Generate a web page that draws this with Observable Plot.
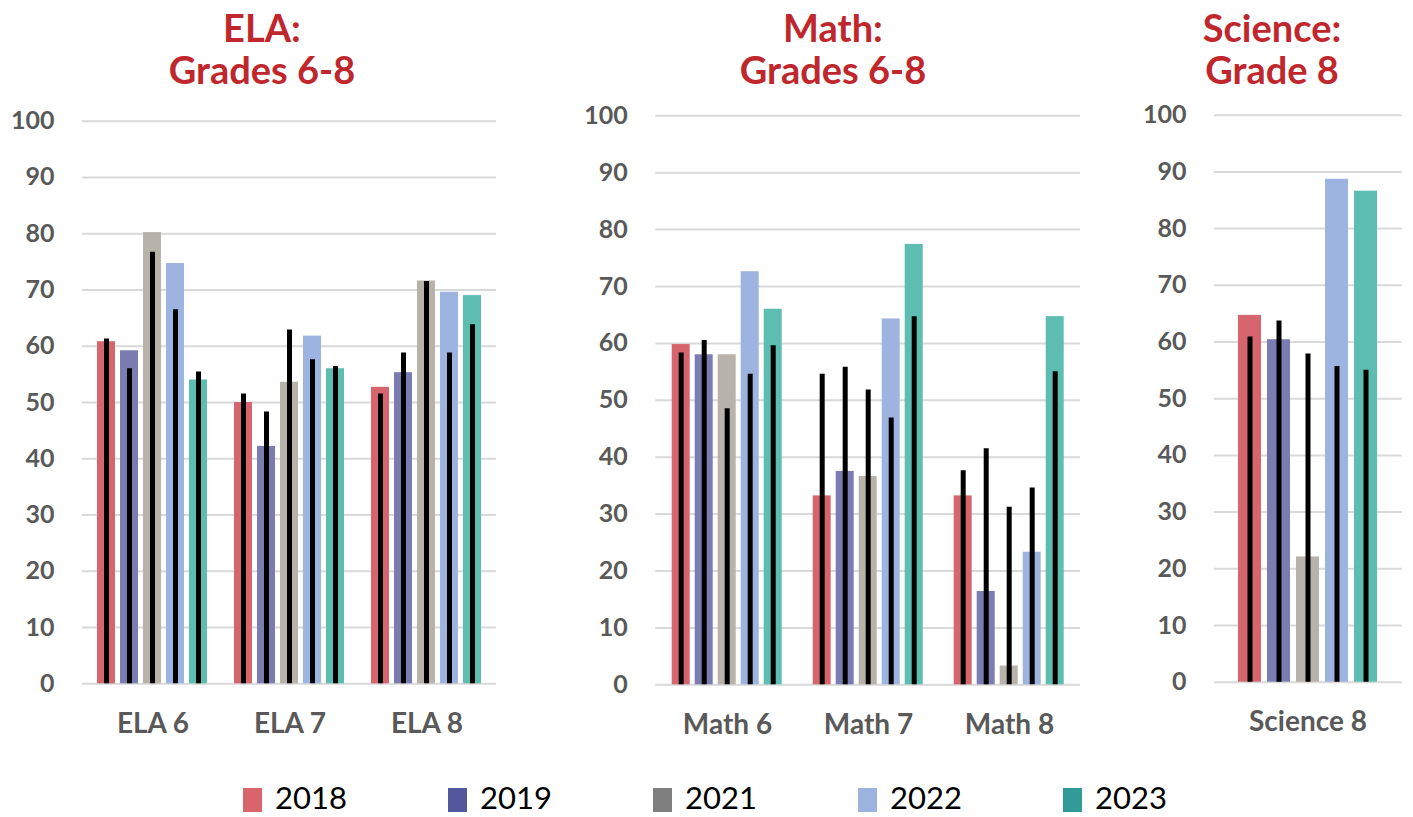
<!DOCTYPE html>
<html><head><meta charset="utf-8">
<script src="https://cdn.jsdelivr.net/npm/d3@7"></script>
<script src="https://cdn.jsdelivr.net/npm/@observablehq/plot@0.6"></script>
<style>
body{margin:0;background:#fff;}
#root{position:relative;width:1413px;height:817px;overflow:hidden;font-family:Lato,sans-serif;}
.title{position:absolute;width:320px;text-align:center;color:#c0272d;font-weight:bold;font-size:38px;line-height:42px;}
.layer{position:absolute;left:0;top:0;}
.panel{position:absolute;}
.legend{position:absolute;left:243px;top:782px;display:flex;}
.item{width:205px;display:flex;align-items:center;font-size:31px;color:#000;line-height:30px;height:30px;}
.sw{width:19px;height:24px;margin-right:13px;flex:none;position:relative;top:3px;}
</style></head><body><div id="root"></div>
<script>
// ---- data ----
const years = ["2018", "2019", "2021", "2022", "2023"];
const elaTests = ["ELA 6", "ELA 7", "ELA 8"];
const mathTests = ["Math 6", "Math 7", "Math 8"];
const sciTests = ["Science 8"];
// school values per test, in year order
const ela6School = [60.8, 59.2, 80.2, 74.7, 54.0];
const ela7School = [50.0, 42.2, 53.6, 61.8, 56.0];
const ela8School = [52.7, 55.3, 71.6, 69.6, 69.0];
const math6School = [59.8, 58.0, 58.0, 72.6, 66.0];
const math7School = [33.2, 37.5, 36.6, 64.3, 77.4];
const math8School = [33.2, 16.4, 3.3, 23.3, 64.7];
const sci8School = [64.7, 60.4, 22.1, 88.7, 86.6];
// comparison values (black bars), in year order
const ela6State = [61.3, 56.0, 76.7, 66.5, 55.4];
const ela7State = [51.5, 48.3, 62.9, 57.6, 56.4];
const ela8State = [51.5, 58.8, 71.5, 58.8, 63.8];
const math6State = [58.3, 60.5, 48.5, 54.6, 59.6];
const math7State = [54.6, 55.8, 51.8, 46.9, 64.7];
const math8State = [37.6, 41.5, 31.2, 34.6, 55.0];
const sci8State = [60.9, 63.7, 57.9, 55.7, 55.0];
const yTicks = [0, 10, 20, 30, 40, 50, 60, 70, 80, 90, 100];

// ---- styles ----
const barColors = ["#d6656d", "#7a7cb2", "#b8b3aa", "#9db3e0", "#5dbdb0"];
const legendColors = ["#d9646c", "#53589e", "#7f7f7f", "#9db3df", "#2f9a96"];

function rowsFor(tests, schools, states) {
  const rows = [];
  tests.forEach((t, i) => years.forEach((y, j) => rows.push({test: t, year: y, school: schools[i][j], state: states[i][j]})));
  return rows;
}

const panels = [
  {title: ["ELA:", "Grades 6-8"], cx: 262, rows: rowsFor(elaTests, [ela6School, ela7School, ela8School], [ela6State, ela7State, ela8State]), tests: elaTests,
   left: 0, width: 510, ml: 82, mr: 14, mt: 20.7, mb: 76.7, pin: 0.19, pout: 0.1},
  {title: ["Math:", "Grades 6-8"], cx: 833, rows: rowsFor(mathTests, [math6School, math7School, math8School], [math6State, math7State, math8State]), tests: mathTests,
   left: 560, width: 540, ml: 95.3, mr: 20, mt: 15.3, mb: 75.7, pin: 0.206, pout: 0.103},
  {title: ["Science:", "Grade 8"], cx: 1272, rows: rowsFor(sciTests, [sci8School], [sci8State]), tests: sciTests,
   left: 1130, width: 283, ml: 84, mr: 11.3, mt: 14.7, mb: 78.3, pin: 0.2, pout: 0.133}
];
const top0 = 100, H = 660;
const root = document.getElementById("root");

panels.forEach(p => {
  const t = document.createElement("div");
  t.className = "title";
  t.style.left = (p.cx - 160) + "px";
  t.style.top = "6px";
  t.innerHTML = p.title.join("<br>");
  root.appendChild(t);

  const wrap = document.createElement("div");
  wrap.className = "panel";
  wrap.style.left = p.left + "px";
  wrap.style.top = top0 + "px";
  wrap.style.width = p.width + "px";
  wrap.style.height = H + "px";
  root.appendChild(wrap);

  const common = {width: p.width, height: H, marginLeft: p.ml, marginRight: p.mr, marginTop: p.mt, marginBottom: p.mb};

  const bg = Plot.plot({
    ...common,
    style: {fontFamily: "Lato, sans-serif", fontSize: "25px", fontWeight: "bold", color: "#595959", background: "transparent", overflow: "visible"},
    y: {domain: [0, 100], ticks: yTicks, tickSize: 0, tickPadding: 28, label: null},
    marks: [Plot.ruleY(yTicks, {stroke: "#d9d9d9", strokeWidth: 2})]
  });
  bg.classList.add("layer");
  wrap.appendChild(bg);

  const fg = Plot.plot({
    ...common,
    style: {fontFamily: "Lato, sans-serif", fontSize: "28px", fontWeight: "bold", color: "#595959", background: "transparent", overflow: "visible"},
    facet: {data: p.rows, x: "test"},
    fx: {domain: p.tests, paddingInner: p.pin, paddingOuter: p.pout, axis: "bottom", tickSize: 0, tickPadding: 29, label: null},
    x: {domain: years, paddingInner: 0.21, paddingOuter: 0, axis: null},
    y: {domain: [0, 100], axis: null},
    color: {domain: years, range: barColors},
    marks: [
      Plot.barY(p.rows, {x: "year", y1: 0, y2: "school", fill: "year"}),
      Plot.ruleX(p.rows, {x: "year", y1: 0, y2: "state", stroke: "#000", strokeWidth: 5})
    ]
  });
  fg.classList.add("layer");
  wrap.appendChild(fg);
});

const lg = document.createElement("div");
lg.className = "legend";
years.forEach((y, i) => {
  const it = document.createElement("div");
  it.className = "item";
  it.innerHTML = `<span class="sw" style="background:${legendColors[i]}"></span><span>${y}</span>`;
  lg.appendChild(it);
});
root.appendChild(lg);
</script></body></html>
